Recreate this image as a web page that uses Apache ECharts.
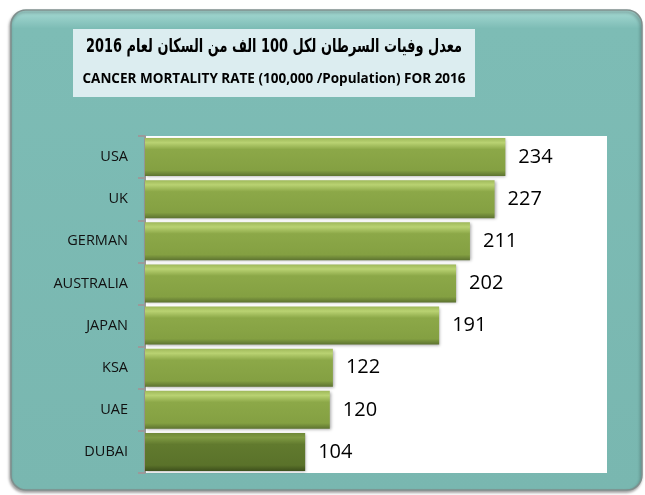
<!DOCTYPE html>
<html>
<head>
<meta charset="utf-8">
<script src="https://cdn.jsdelivr.net/npm/echarts@6/dist/echarts.min.js"></script>
<style>
  html, body { margin: 0; padding: 0; background: #fff; }
  #chart { width: 645px; height: 495px; }
</style>
</head>
<body>
<div id="chart"></div>
<script>
// data
const countries = ['USA', 'UK', 'GERMAN', 'AUSTRALIA', 'JAPAN', 'KSA', 'UAE', 'DUBAI'];
const rates = [234, 227, 211, 202, 191, 122, 120, 104];
const highlight = ['DUBAI'];

const titleAr = '\u202Bمعدل وفيات السرطان لكل 100 الف من السكان لعام 2016\u202C';
const titleEn = 'CANCER MORTALITY RATE (100,000 /Population) FOR 2016';

const greenBar = new echarts.graphic.LinearGradient(0, 0, 0, 1, [
  { offset: 0, color: '#9fb95a' },
  { offset: 0.12, color: '#b9d272' },
  { offset: 0.3, color: '#8ca848' },
  { offset: 0.85, color: '#84a042' },
  { offset: 1, color: '#5d7330' }
]);
const darkBar = new echarts.graphic.LinearGradient(0, 0, 0, 1, [
  { offset: 0, color: '#6e8838' },
  { offset: 0.12, color: '#7f9a42' },
  { offset: 0.3, color: '#617a2e' },
  { offset: 0.85, color: '#5a722a' },
  { offset: 1, color: '#3e501c' }
]);

const chart = echarts.init(document.getElementById('chart'));

chart.setOption({
  animation: false,
  graphic: [
    {
      type: 'rect',
      z: -10,
      shape: { x: 11, y: 10, width: 631, height: 480, r: 15 },
      style: {
        fill: new echarts.graphic.LinearGradient(0, 0, 0, 1, [
          { offset: 0, color: '#a9dcd6' },
          { offset: 0.04, color: '#7dbcb5' },
          { offset: 1, color: '#79b7b0' }
        ]),
        stroke: '#7f8f8d',
        lineWidth: 1.5,
        shadowBlur: 3,
        shadowOffsetX: -1,
        shadowOffsetY: 2,
        shadowColor: 'rgba(0,0,0,0.35)'
      }
    },
    {
      type: 'rect',
      z: -9,
      shape: { x: 73, y: 29, width: 402, height: 68 },
      style: { fill: '#dcedf0' }
    },
    {
      type: 'text',
      z: 5,
      x: 274,
      y: 47,
      scaleX: 0.68,
      style: {
        x: 0, y: 0,
        text: titleAr,
        font: 'bold 19px "DejaVu Sans"',
        fill: '#000',
        align: 'center',
        verticalAlign: 'middle'
      }
    },
    {
      type: 'text',
      z: 5,
      style: {
        x: 274, y: 79,
        text: titleEn,
        font: 'bold 13.5px "Open Sans"',
        fill: '#000',
        align: 'center',
        verticalAlign: 'middle'
      }
    }
  ],
  grid: {
    left: 145,
    top: 136,
    width: 462,
    height: 337,
    show: true,
    backgroundColor: '#fff',
    borderWidth: 0,
    containLabel: false
  },
  xAxis: {
    type: 'value',
    min: 0,
    max: 300,
    show: false
  },
  yAxis: {
    type: 'category',
    inverse: true,
    data: countries,
    axisLine: { show: true, lineStyle: { color: '#9a9a9a', width: 2 } },
    axisTick: { show: true, length: 7, lineStyle: { color: '#9a9a9a', width: 2 } },
    axisLabel: {
      margin: 17,
      color: '#111',
      fontSize: 14.5,
      fontFamily: 'Open Sans'
    },
    splitLine: { show: false }
  },
  series: [
    {
      type: 'bar',
      barCategoryGap: '10%',
      data: rates.map((v, i) => ({
        value: v,
        itemStyle: { color: highlight.includes(countries[i]) ? darkBar : greenBar }
      })),
      itemStyle: {
        shadowBlur: 3,
        shadowOffsetX: 1,
        shadowOffsetY: 1,
        shadowColor: 'rgba(0,0,0,0.35)'
      },
      label: {
        show: true,
        position: 'right',
        distance: 13,
        color: '#000',
        fontSize: 20,
        fontFamily: 'Open Sans'
      }
    }
  ]
});
</script>
</body>
</html>
